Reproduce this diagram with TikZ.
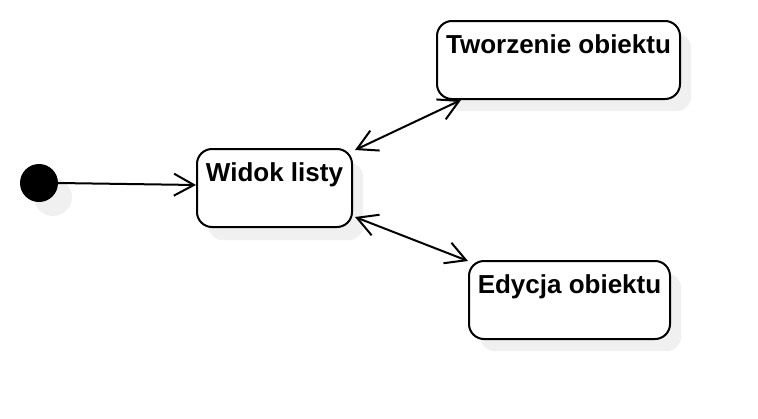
\documentclass[tikz,border=0pt]{standalone}
\usepackage{fontspec}
\setmainfont{Liberation Sans}
\usetikzlibrary{arrows.meta}
\begin{document}
\begin{tikzpicture}[x=1pt,y=-1pt,
  statebox/.style={draw=black,line width=2pt,rounded corners=15pt,fill=white,minimum height=78pt,inner sep=0pt,anchor=north west},
  shadowbox/.style={fill=black!6,draw=none,rounded corners=15pt,minimum height=78pt,inner sep=0pt,anchor=north west},
  lbl/.style={anchor=base,font=\fontsize{26}{30}\selectfont\bfseries,inner sep=0pt},
  conn/.style={line width=2pt,-{Straight Barb[length=20pt,width=22pt,line width=2pt]}},
  biconn/.style={line width=2pt,{Straight Barb[length=20pt,width=22pt,line width=2pt]}-{Straight Barb[length=20pt,width=22pt,line width=2pt]}}]
\useasboundingbox (0,0) rectangle (758,418);
% shadows
\fill[black!6] (53,197) circle (19);
\node[shadowbox,minimum width=155pt] (ws) at (208,162) {};
\node[shadowbox,minimum width=243pt] (ts) at (448,33) {};
\node[shadowbox,minimum width=201pt] (es) at (480,273) {};
% initial state
\node[circle,fill=black,minimum size=38pt,inner sep=0pt] (init) at (39,183) {};
% states
\node[statebox,minimum width=155pt] (w) at (196,148) {};
\node[statebox,minimum width=243pt] (t) at (436,20) {};
\node[statebox,minimum width=201pt] (e) at (468,260) {};
\node[lbl] (wl) at ([yshift=-33]w.north) {Widok listy};
\node[lbl] (tl) at ([yshift=-33]t.north) {Tworzenie obiektu};
\node[lbl] (el) at ([yshift=-33]e.north) {Edycja obiektu};
% connectors
\draw[conn] (init.east) -- ([yshift=3]w.west);
\draw[biconn] ([shift={(2,2)}]w.north east) -- ([xshift=25]t.south west);
\draw[biconn] ([shift={(2,-11)}]w.south east) -- ([yshift=-1]e.north west);
\end{tikzpicture}
\end{document}
